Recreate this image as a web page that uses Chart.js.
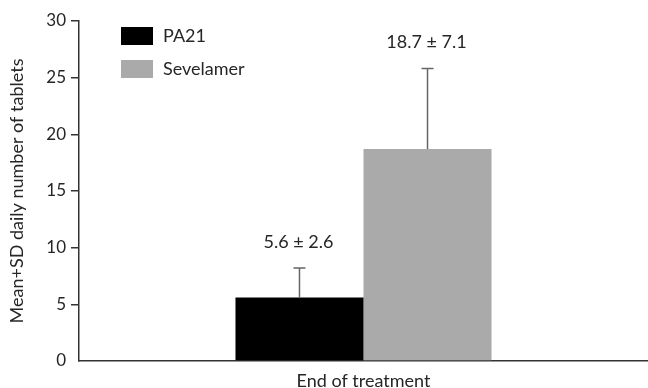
<!DOCTYPE html>
<html>
<head>
<meta charset="utf-8">
<script src="https://cdn.jsdelivr.net/npm/chart.js@4/dist/chart.umd.min.js"></script>
<style>
  html, body { margin: 0; padding: 0; background: #fff; }
  #wrap { width: 648px; height: 388px; }
</style>
</head>
<body>
<div id="wrap"><canvas id="chart" width="648" height="388"></canvas></div>
<script>
// data
const categories = ["End of treatment"];
const seriesNames = ["PA21", "Sevelamer"];
const meanValues = [5.6, 18.7];
const sdValues = [2.6, 7.1];
const barLabels = ["5.6 \u00b1 2.6", "18.7 \u00b1 7.1"];
const yTicks = [0, 5, 10, 15, 20, 25, 30];
const barColors = ["#000000", "#aaaaaa"];

const fontFamily = "Lato, 'Open Sans', sans-serif";
const axisColor = "#333333";
const textColor = "#262626";

// error bars + value text above each bar
const errorBarPlugin = {
    id: "errorBars",
    afterDatasetsDraw(chart) {
        const ctx = chart.ctx;
        const yScale = chart.scales.y;
        chart.data.datasets.forEach((ds, i) => {
            const bar = chart.getDatasetMeta(i).data[0];
            const top = yScale.getPixelForValue(meanValues[i] + sdValues[i]);
            ctx.save();
            ctx.strokeStyle = "#666666";
            ctx.lineWidth = 1.5;
            ctx.beginPath();
            ctx.moveTo(bar.x, bar.y);
            ctx.lineTo(bar.x, top);
            ctx.moveTo(bar.x - 6, top);
            ctx.lineTo(bar.x + 6, top);
            ctx.stroke();
            ctx.fillStyle = textColor;
            ctx.font = "18px " + fontFamily;
            ctx.textAlign = "center";
            ctx.textBaseline = "middle";
            ctx.fillText(barLabels[i], bar.x - 1, top - 26);
            ctx.restore();
        });
    }
};

// legend drawn inside the plot, top left
const insideLegend = {
    id: "insideLegend",
    afterDraw(chart) {
        const ctx = chart.ctx;
        ctx.save();
        ctx.font = "18px " + fontFamily;
        ctx.textBaseline = "middle";
        ctx.textAlign = "left";
        chart.data.datasets.forEach((ds, i) => {
            const y = 27 + i * 33;
            ctx.fillStyle = ds.backgroundColor;
            ctx.fillRect(121, y, 32, 18);
            ctx.fillStyle = textColor;
            ctx.fillText(ds.label, 163, y + 9);
        });
        ctx.restore();
    }
};

new Chart(document.getElementById("chart"), {
    type: "bar",
    data: {
        labels: categories,
        datasets: seriesNames.map((name, i) => ({
            label: name,
            data: [meanValues[i]],
            backgroundColor: barColors[i],
            borderWidth: 0,
            barPercentage: 1.0,
            categoryPercentage: 0.45
        }))
    },
    options: {
        responsive: false,
        animation: false,
        layout: { padding: { top: 21, right: 0, bottom: 0, left: 0 } },
        plugins: {
            legend: { display: false },
            tooltip: { enabled: false }
        },
        scales: {
            x: {
                grid: { display: false },
                border: { color: axisColor, width: 1.5 },
                ticks: { color: textColor, font: { size: 18, family: fontFamily }, padding: 1 },
                afterFit(scale) { scale.height = 27; }
            },
            y: {
                min: 0,
                max: 30,
                afterBuildTicks(scale) { scale.ticks = yTicks.map(v => ({ value: v })); },
                grid: {
                    drawOnChartArea: false,
                    color: (c) => (c.tick && c.tick.value === 0 ? "rgba(0,0,0,0)" : axisColor),
                    tickLength: 8,
                    lineWidth: 1.5
                },
                border: { color: axisColor, width: 1.5 },
                ticks: { color: textColor, font: { size: 17, family: fontFamily }, padding: 5 },
                title: {
                    display: true,
                    text: "Mean+SD daily number of tablets",
                    color: textColor,
                    font: { size: 18, family: fontFamily },
                    padding: { top: 6, bottom: 4 }
                },
                afterFit(scale) { scale.width = 79; }
            }
        }
    },
    plugins: [errorBarPlugin, insideLegend]
});
</script>
</body>
</html>
